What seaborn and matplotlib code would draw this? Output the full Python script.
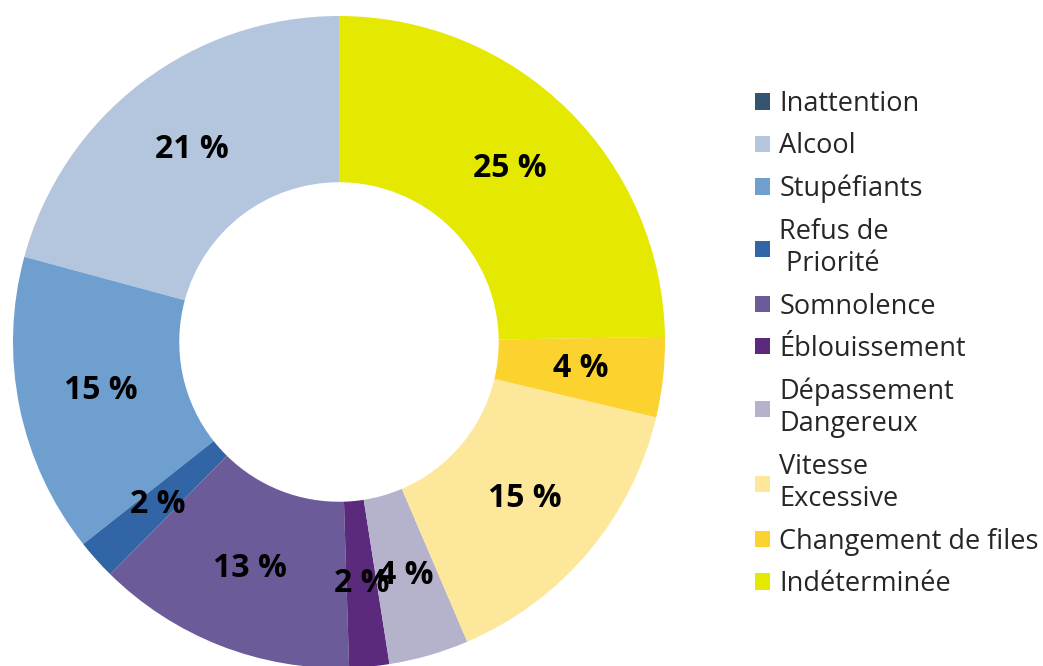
import matplotlib as mpl

mpl.use("Agg")

import matplotlib.pyplot as plt
from matplotlib.patches import Patch
import seaborn as sns

sns.set_theme(style="white")
plt.rcParams["font.family"] = ["Open Sans", "DejaVu Sans"]

# Causes, in drawing order (counter-clockwise from 12 o'clock)
CAUSES = [
    "Inattention",
    "Alcool",
    "Stupéfiants",
    "Refus de\n Priorité",
    "Somnolence",
    "Éblouissement",
    "Dépassement\nDangereux",
    "Vitesse\nExcessive",
    "Changement de files",
    "Indéterminée",
]
SHARES = [0, 21, 15, 2, 13, 2, 4, 15, 4, 25]
COLORS = [
    "#34546f",
    "#b4c6dd",
    "#6f9fcf",
    "#3265a6",
    "#6b5c99",
    "#5b2a7c",
    "#b5b2cb",
    "#fde79a",
    "#fcd22e",
    "#e5e800",
]

W, H = 1043, 666
fig = plt.figure(figsize=(W / 100, H / 100), dpi=100)

# square axes centred on the donut (centre ~ (339, 342) px, radius ~326 px)
cx, cy, r = 339, 342, 326
ax = fig.add_axes([(cx - r) / W, (H - cy - r) / H, 2 * r / W, 2 * r / H])

labels = [f"{v} %" if v > 0 else "" for v in SHARES]
wedges, texts = ax.pie(
    SHARES,
    colors=COLORS,
    labels=labels,
    labeldistance=0.745,
    startangle=90,
    counterclock=True,
    radius=1,
    wedgeprops={"width": 0.51, "linewidth": 0},
)
for t in texts:
    t.set_ha("center")
    t.set_va("center")
    t.set_fontsize(23)
    t.set_fontweight("bold")
    t.set_color("black")
ax.set_xlim(-1, 1)
ax.set_ylim(-1, 1)
ax.set_aspect("auto")
ax.axis("off")

handles = [Patch(facecolor=c, edgecolor="none") for c in COLORS]
leg = fig.legend(
    handles,
    CAUSES,
    loc="upper left",
    bbox_to_anchor=(755 / W, 1 - 90 / H),
    frameon=False,
    fontsize=19.5,
    handlelength=0.55,
    handleheight=0.55,
    handletextpad=0.35,
    labelspacing=0.53,
    borderpad=0,
    borderaxespad=0,
)
for t in leg.get_texts():
    t.set_linespacing(1.22)

fig.savefig("out.png", dpi=100)
plt.close(fig)
